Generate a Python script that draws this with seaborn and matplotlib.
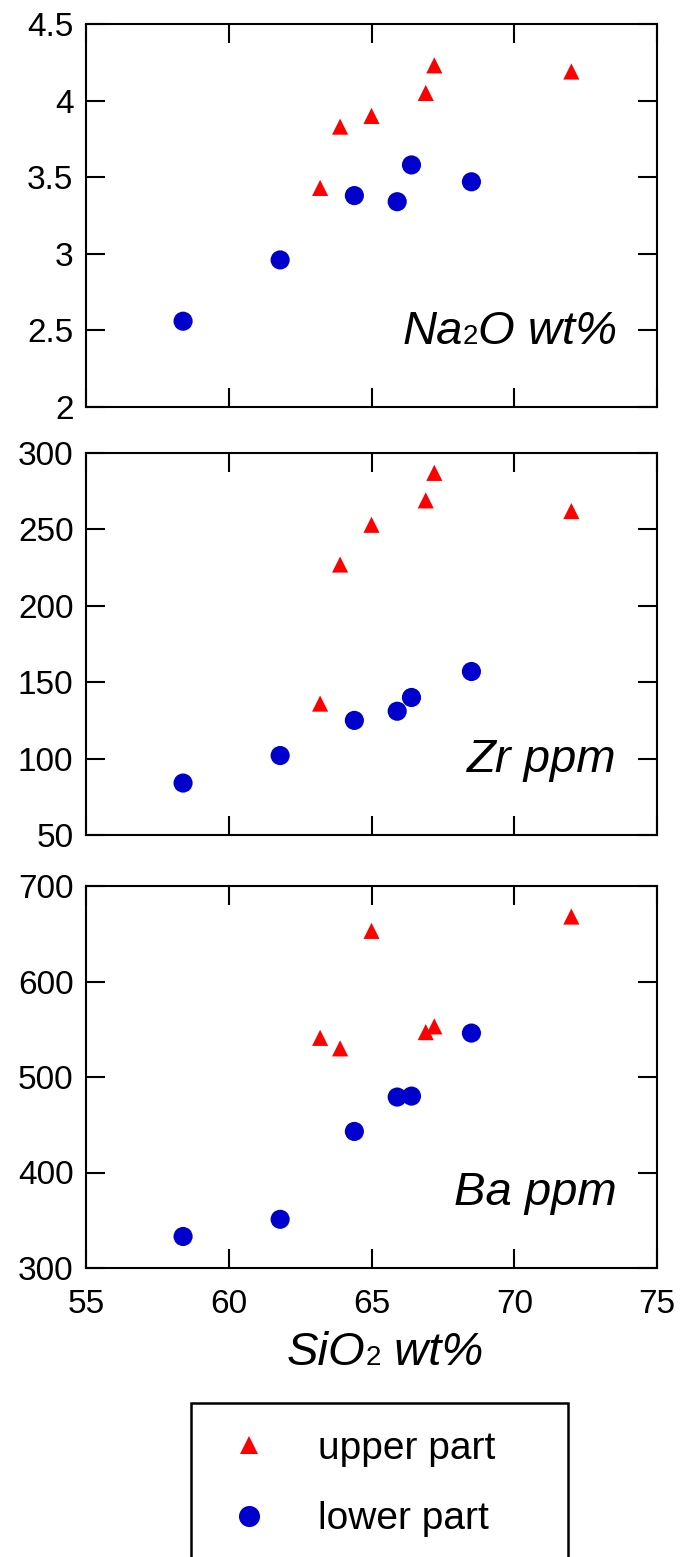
import matplotlib
matplotlib.use("Agg")
import matplotlib.pyplot as plt
import seaborn as sns
import pandas as pd
from matplotlib.offsetbox import TextArea, HPacker, AnchoredOffsetbox

# ---------------- data ----------------
parts = ["upper part", "lower part"]
sio2_upper = [63.2, 63.9, 65.0, 66.9, 67.2, 72.0]
na2o_upper = [3.43, 3.83, 3.90, 4.05, 4.23, 4.19]
zr_upper = [136, 227, 253, 269, 287, 262]
ba_upper = [541, 530, 653, 547, 553, 668]

sio2_lower = [58.4, 61.8, 64.4, 65.9, 66.4, 68.5]
na2o_lower = [2.56, 2.96, 3.38, 3.34, 3.58, 3.47]
zr_lower = [84, 102, 125, 131, 140, 157]
ba_lower = [333, 351, 443, 479, 480, 546]

x_ticks = [55, 60, 65, 70, 75]
x_ticklabels = ["55", "60", "65", "70", "75"]
na2o_ticks = [2, 2.5, 3, 3.5, 4, 4.5]
na2o_ticklabels = ["2", "2.5", "3", "3.5", "4", "4.5"]
zr_ticks = [50, 100, 150, 200, 250, 300]
zr_ticklabels = ["50", "100", "150", "200", "250", "300"]
ba_ticks = [300, 400, 500, 600, 700]
ba_ticklabels = ["300", "400", "500", "600", "700"]

df = pd.DataFrame({
    "SiO2": sio2_upper + sio2_lower,
    "Na2O": na2o_upper + na2o_lower,
    "Zr": zr_upper + zr_lower,
    "Ba": ba_upper + ba_lower,
    "part": [parts[0]] * len(sio2_upper) + [parts[1]] * len(sio2_lower),
})

# ---------------- style ----------------
sns.set_style("ticks")
plt.rcParams["font.family"] = ["Liberation Sans", "DejaVu Sans"]
plt.rcParams["axes.linewidth"] = 1.5
plt.rcParams["text.color"] = "black"

palette = {"upper part": "#FF0000", "lower part": "#0000CC"}
markers = {"upper part": "^", "lower part": "o"}
sizes_map = {"upper part": 135, "lower part": 190}

W, H = 681, 1557
fig = plt.figure(figsize=(W / 100, H / 100), dpi=100)

def ax_rect(top_px, bot_px, left_px=86, right_px=657):
    return [left_px / W, 1 - bot_px / H, (right_px - left_px) / W, (bot_px - top_px) / H]

ax1 = fig.add_axes(ax_rect(24, 407))
ax2 = fig.add_axes(ax_rect(453, 835))
ax3 = fig.add_axes(ax_rect(886, 1268))

panels = [
    (ax1, "Na2O", na2o_ticks, na2o_ticklabels, ("Na", "2", "O wt%")),
    (ax2, "Zr", zr_ticks, zr_ticklabels, ("Zr ppm", None, None)),
    (ax3, "Ba", ba_ticks, ba_ticklabels, ("Ba ppm", None, None)),
]

def make_label(pieces, big=34, small=20):
    children = []
    a, sub, b = pieces
    children.append(TextArea(a, textprops=dict(fontsize=big, fontstyle="italic", color="black")))
    if sub is not None:
        children.append(TextArea(sub, textprops=dict(fontsize=small, color="black")))
    if b is not None:
        children.append(TextArea(b, textprops=dict(fontsize=big, fontstyle="italic", color="black")))
    return HPacker(children=children, align="baseline", pad=0, sep=0)

for i, (ax, col, yt, ytl, lab) in enumerate(panels):
    sns.scatterplot(data=df, x="SiO2", y=col, hue="part", style="part",
                    hue_order=parts, style_order=parts,
                    palette=palette, markers=markers, size="part",
                    sizes=sizes_map, size_order=parts,
                    edgecolor="none", linewidth=0, ax=ax,
                    legend=(i == 0))
    ax.set_xlim(55, 75)
    ax.set_ylim(yt[0], yt[-1])
    ax.set_xticks(x_ticks)
    ax.set_yticks(yt)
    ax.set_yticklabels(ytl)
    if ax is ax3:
        ax.set_xticklabels(x_ticklabels)
    else:
        ax.set_xticklabels([])
    ax.set_xlabel("")
    ax.set_ylabel("")
    ax.tick_params(direction="in", length=14, width=1.5, top=True, right=True,
                   labelsize=24, colors="black")
    ax.tick_params(axis="y", pad=9)
    ax.tick_params(axis="x", pad=15)
    for s in ax.spines.values():
        s.set_visible(True)
        s.set_linewidth(1.5)
        s.set_color("black")
    box = make_label(lab)
    anch = AnchoredOffsetbox(loc="lower right", child=box, pad=0, borderpad=0,
                             frameon=False, bbox_to_anchor=(0.93, 0.138),
                             bbox_transform=ax.transAxes)
    ax.add_artist(anch)

# legend handles from seaborn
leg = ax1.get_legend()
handles = leg.legend_handles
labels = [t.get_text() for t in leg.get_texts()]
leg.remove()
pairs = [(h, l) for h, l in zip(handles, labels) if l in parts]
handles = [p[0] for p in pairs]
labels = [p[1] for p in pairs]

# x label
xl = make_label(("SiO", "2", " wt%"))
anch = AnchoredOffsetbox(loc="center", child=xl, pad=0, borderpad=0, frameon=False,
                         bbox_to_anchor=(385 / W, 1 - 1353 / H),
                         bbox_transform=fig.transFigure)
fig.add_artist(anch)

lg = fig.legend(handles, labels, loc="upper left",
                bbox_to_anchor=(191 / W, 1 - 1403 / H, 377 / W, 0),
                mode="expand", fontsize=28, frameon=True, fancybox=False,
                edgecolor="black", framealpha=1, borderpad=0.72,
                borderaxespad=0, labelcolor="black",
                labelspacing=0.88, handlelength=1.55, handletextpad=1.0,
                markerscale=1.1)
lg.get_frame().set_linewidth(1.8)

fig.savefig("out.png", dpi=100)
